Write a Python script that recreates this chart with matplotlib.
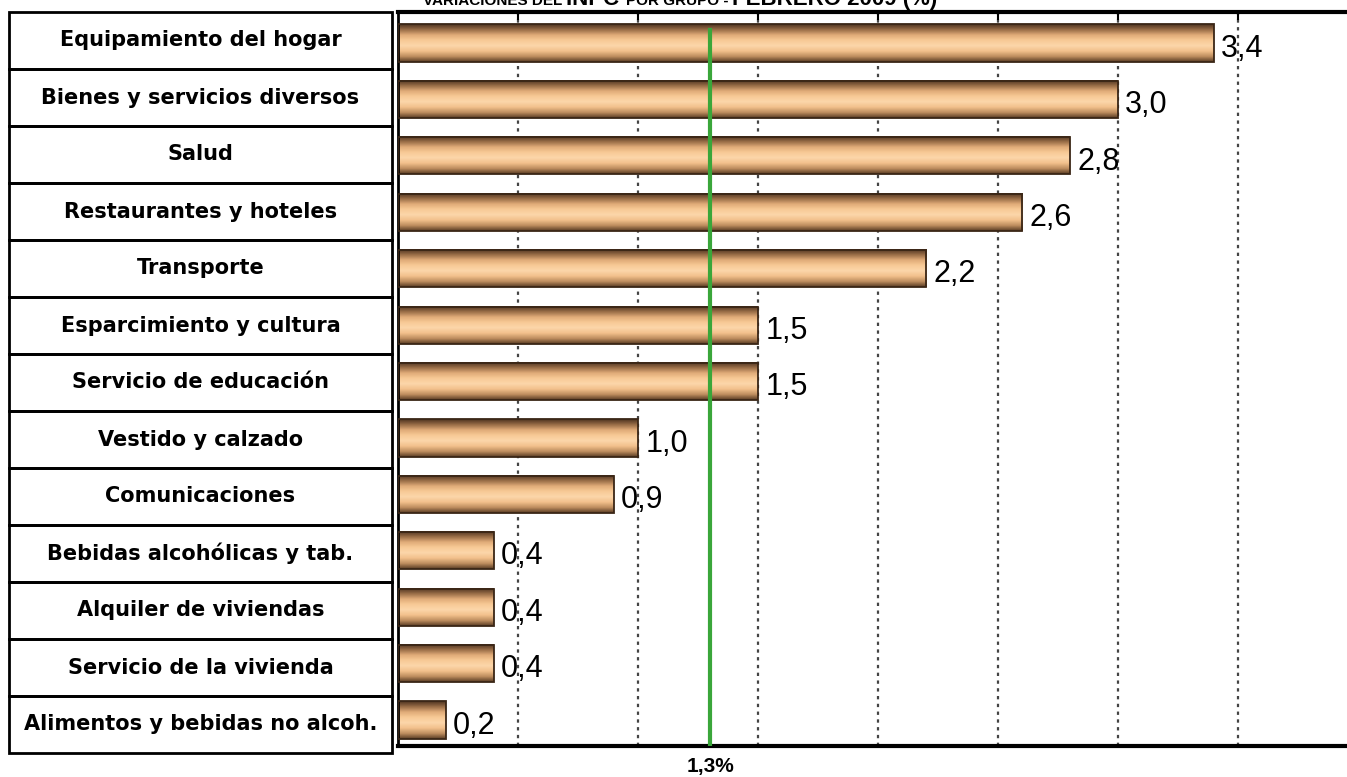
import numpy as np
import matplotlib
matplotlib.use("Agg")
import matplotlib.pyplot as plt
from matplotlib.colors import LinearSegmentedColormap
from matplotlib.patches import Rectangle

categorias = [
    "Equipamiento del hogar",
    "Bienes y servicios diversos",
    "Salud",
    "Restaurantes y hoteles",
    "Transporte",
    "Esparcimiento y cultura",
    "Servicio de educación",
    "Vestido y calzado",
    "Comunicaciones",
    "Bebidas alcohólicas y tab.",
    "Alquiler de viviendas",
    "Servicio de la vivienda",
    "Alimentos y bebidas no alcoh.",
]
valores = [3.4, 3.0, 2.8, 2.6, 2.2, 1.5, 1.5, 1.0, 0.9, 0.4, 0.4, 0.4, 0.2]
promedio = 1.3
titulo = [("VARIACIONES DEL ", 11), ("INPC ", 16), ("POR GRUPO - ", 11), ("FEBRERO 2009 (%)", 16)]

W, H = 1347, 777
fig = plt.figure(figsize=(W / 100, H / 100), dpi=100)
ax = fig.add_axes([398 / W, (H - 746) / H, 1 - 398 / W, 734 / H])

cmap = LinearSegmentedColormap.from_list(
    "cil", ["#4e3320", "#9a6e48", "#e0ab78", "#f8ca96", "#fcd6aa", "#f2c08c", "#bf8f60", "#5a3c24"])
grad = np.linspace(0, 1, 64).reshape(-1, 1)
h = 0.66
y = np.arange(len(valores))
for yi, v in zip(y, valores):
    ax.imshow(grad, extent=[0, v, yi + h / 2, yi - h / 2], aspect="auto", cmap=cmap,
              zorder=2, interpolation="bilinear")
ax.barh(y, valores, height=h, fill=False, edgecolor="#3a2616", linewidth=1.3, zorder=3)

for yi, v in zip(y, valores):
    ax.text(v + 0.03, yi + 0.1, f"{v:.1f}".replace(".", ","), va="center", ha="left",
            fontsize=22, family="Liberation Sans", zorder=4)

ax.set_xlim(0, (W - 398) / 240)
ax.set_ylim(12.46, -0.55)
grid_x = np.arange(0.5, 3.6, 0.5)
for gx in grid_x:
    ax.axvline(gx, color="#444444", linestyle=(0, (1.5, 2.0)), linewidth=1.6, zorder=1)
ax.axvline(promedio, ymin=0, ymax=0.975, color="#3aa63a", linewidth=3, zorder=5)

ax.set_xticks(grid_x)
ax.xaxis.tick_top()
ax.tick_params(axis="x", direction="in", length=6, width=1.5, labeltop=False, top=True)
ax.set_yticks([])
for s in ["top", "bottom"]:
    ax.spines[s].set_linewidth(3)
ax.spines["left"].set_linewidth(2)
ax.spines["right"].set_visible(False)

ax.text(promedio, -0.015, "1,3%", transform=ax.get_xaxis_transform(), ha="center", va="top",
        fontsize=15, fontweight="bold", family="Liberation Sans")

# tabla de categorias
x0, x1 = 9, 392
top, rh = 12, 57
for i, c in enumerate(categorias):
    yt = top + i * rh
    fig.patches.append(Rectangle((x0 / W, (H - yt - rh) / H), (x1 - x0) / W, rh / H,
                                 transform=fig.transFigure, fill=False, edgecolor="black",
                                 linewidth=2))
    fig.text((x0 + x1) / 2 / W, (H - yt - rh / 2) / H, c, ha="center", va="center",
             fontsize=15, fontweight="bold", family="DejaVu Sans")

# titulo con tamaños mezclados (cortado arriba como en el original)
renderer = fig.canvas.get_renderer()
xpos = 423
for txt, fs in titulo:
    t = fig.text(xpos / W, (H - 5) / H, txt, ha="left", va="baseline", fontsize=fs,
                 fontweight="bold", family="Liberation Sans")
    bb = t.get_window_extent(renderer)
    xpos += bb.width

fig.savefig("out.png", dpi=100)
